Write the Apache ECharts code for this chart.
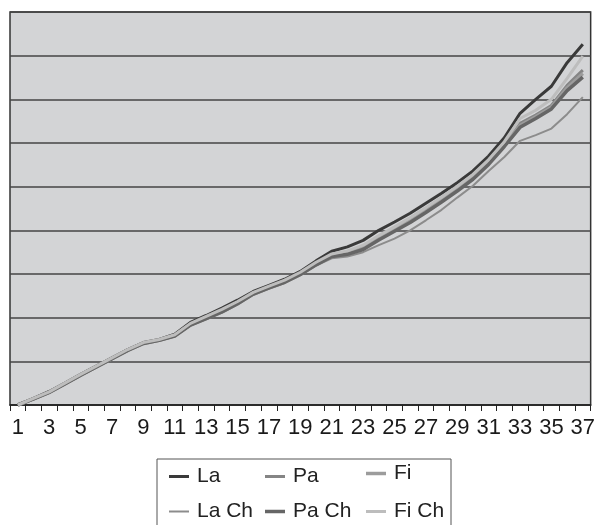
<!DOCTYPE html>
<html>
<head>
<meta charset="utf-8">
<script src="https://cdn.jsdelivr.net/npm/echarts@6/dist/echarts.min.js"></script>
<style>html,body{margin:0;padding:0;background:#fff;}#c{width:598px;height:525px;}</style>
</head>
<body>
<div id="c"></div>
<script>
const categories = Array.from({length: 37}, (_, i) => String(i + 1));
const seriesNames = ['La', 'Pa', 'Fi', 'La Ch', 'Pa Ch', 'Fi Ch'];
const laValues   = [0,0.15,0.31,0.50,0.70,0.89,1.08,1.27,1.43,1.50,1.62,1.89,2.05,2.22,2.40,2.60,2.74,2.88,3.06,3.30,
                    3.52,3.62,3.77,4.00,4.19,4.39,4.62,4.85,5.09,5.36,5.70,6.12,6.68,7.00,7.30,7.84,8.26];
const paValues   = [0,0.14,0.30,0.49,0.69,0.88,1.07,1.26,1.42,1.49,1.60,1.85,2.00,2.16,2.35,2.56,2.70,2.83,3.01,3.24,
                    3.43,3.49,3.62,3.84,4.04,4.24,4.47,4.71,4.96,5.23,5.57,5.98,6.45,6.64,6.86,7.32,7.67];
const fiValues   = [0,0.14,0.29,0.49,0.68,0.87,1.06,1.25,1.41,1.48,1.59,1.84,1.99,2.15,2.34,2.55,2.69,2.82,3.00,3.22,
                    3.41,3.47,3.59,3.81,4.01,4.21,4.44,4.68,4.93,5.20,5.54,5.95,6.40,6.60,6.82,7.26,7.59];
const laChValues = [0,0.13,0.28,0.48,0.67,0.86,1.05,1.24,1.40,1.47,1.57,1.82,1.96,2.11,2.30,2.52,2.66,2.79,2.97,3.19,
                    3.36,3.40,3.50,3.66,3.81,4.00,4.23,4.47,4.75,5.02,5.36,5.68,6.05,6.18,6.33,6.66,7.05];
const paChValues = [0,0.14,0.29,0.48,0.68,0.87,1.06,1.25,1.41,1.48,1.58,1.83,1.98,2.13,2.32,2.54,2.68,2.81,2.99,3.21,
                    3.40,3.45,3.56,3.78,3.98,4.18,4.41,4.65,4.90,5.17,5.51,5.92,6.36,6.56,6.78,7.20,7.51];
const fiChValues = [0,0.15,0.30,0.50,0.70,0.89,1.08,1.27,1.43,1.50,1.61,1.87,2.03,2.19,2.37,2.58,2.72,2.86,3.04,3.27,
                    3.46,3.53,3.66,3.88,4.08,4.29,4.52,4.76,5.01,5.28,5.62,6.03,6.56,6.75,7.00,7.48,7.99];

const valuesList = [laValues, paValues, fiValues, laChValues, paChValues, fiChValues];
const colors = ['#3a3a3a', '#858585', '#9c9c9c', '#8c8c8c', '#666666', '#bdbdbd'];
const widths = [3, 3, 3.5, 2, 3.5, 3];
const FONT = "'Liberation Sans', Arial, Helvetica, sans-serif";

const legendPos = [
  [169, 477], [265, 477], [366, 474],
  [169, 512], [265, 512], [366, 512]
];

const chart = echarts.init(document.getElementById('c'), null, {renderer: 'canvas'});

const series = seriesNames.map((name, k) => ({
  name: name,
  type: 'line',
  data: valuesList[k],
  symbol: 'none',
  color: colors[k],
  lineStyle: {width: widths[k], color: colors[k]},
  animation: false,
  z: 2 + k
}));

const legends = seriesNames.map((name, k) => ({
  show: true,
  data: [{name: name, icon: 'rect'}],
  left: legendPos[k][0],
  top: legendPos[k][1] - 11,
  padding: 0,
  itemWidth: 20,
  itemHeight: Math.max(2, widths[k]),
  selectedMode: false,
  textStyle: {fontSize: 21, color: '#222', fontFamily: FONT, padding: [0, 0, 0, 3]}
}));

chart.setOption({
  animation: false,
  backgroundColor: '#ffffff',
  grid: {
    left: 10, right: 4, top: 12, bottom: 120,
    show: true, backgroundColor: '#d3d4d6', borderColor: '#333', borderWidth: 1.5
  },
  xAxis: {
    type: 'category',
    data: categories,
    boundaryGap: true,
    axisLine: {lineStyle: {color: '#222', width: 1.5}},
    axisTick: {show: true, interval: 0, length: 6, lineStyle: {color: '#222', width: 1}},
    axisLabel: {interval: 1, margin: 12, fontSize: 22, color: '#1a1a1a', fontFamily: FONT},
    splitLine: {show: false}
  },
  yAxis: {
    type: 'value',
    min: 0, max: 9, interval: 1,
    axisLabel: {show: false},
    axisLine: {show: false},
    axisTick: {show: false},
    splitLine: {show: true, lineStyle: {color: '#444', width: 1.5}}
  },
  legend: legends,
  graphic: [{
    type: 'rect',
    shape: {x: 157, y: 459, width: 294, height: 80},
    style: {fill: 'rgba(0,0,0,0)', stroke: '#555', lineWidth: 1},
    z: -1
  }],
  series: series
});
</script>
</body>
</html>
